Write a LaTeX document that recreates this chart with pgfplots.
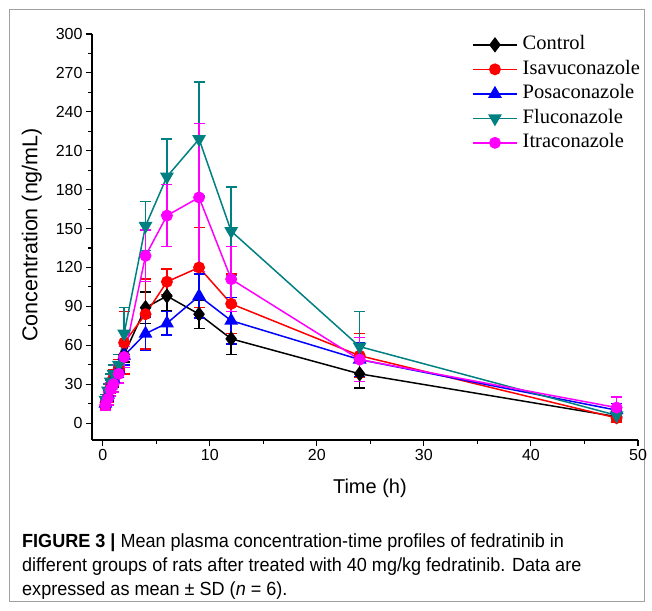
\documentclass[border=0pt]{standalone}
\usepackage{pgfplots}
\pgfplotsset{compat=1.18}
\usepackage{fontspec}
\setmainfont{Liberation Sans}
\newfontfamily\capfont[FakeStretch=0.95]{Liberation Sans}
\newfontfamily\legfont{Liberation Serif}
\definecolor{cTeal}{RGB}{0,128,128}
\definecolor{cMag}{RGB}{255,0,255}
\definecolor{cFrame}{RGB}{160,160,160}

\begin{document}
\begin{tikzpicture}[x=1pt,y=1pt]
\useasboundingbox (0,0) rectangle (652,610);
\draw[cFrame,line width=0.8pt] (9,9) rectangle (644,601);
\begin{axis}[
  at={(92pt,170pt)}, anchor=south west,
  scale only axis, width=546pt, height=406pt,
  xmin=-1, xmax=50, ymin=-13, ymax=300,
  axis x line*=bottom, axis y line*=left,
  axis line style={-,line width=1.3pt},
  tick align=outside,
  xtick={0,10,...,50}, minor x tick num=1,
  ytick={0,30,...,300}, minor y tick num=1,
  major tick length=6pt, minor tick length=3.5pt,
  tick style={black,line width=1.1pt},
  tick label style={font=\fontsize{16}{18}\selectfont},
  /pgf/number format/assume math mode=true,
  xlabel={Time (h)}, ylabel={Concentration (ng/mL)},
  xlabel style={font=\fontsize{20}{22}\selectfont, at={(axis description cs:0.509,-0.118)}, anchor=center},
  ylabel style={font=\fontsize{21.5}{23}\selectfont, at={(axis description cs:-0.11,0.505)}, anchor=center},
  clip=false,
  legend cell align=left,
  legend style={at={(0.696,1.004)}, anchor=north west, draw=none, fill=none,
    font=\legfont\fontsize{20.5}{20}\selectfont, inner sep=0pt,
    nodes={inner ysep=2pt, inner xsep=2pt, text height=15pt, text depth=5.5pt},
    /tikz/every odd column/.append style={column sep=3pt}},
  legend image code/.code={\draw[mark repeat=2,mark phase=2,#1] plot coordinates {(0pt,0pt)(22pt,0pt)(44pt,0pt)};},
  every axis plot/.append style={line width=1.5pt},
  error bars/error bar style={line width=1.5pt},
  error bars/error mark options={rotate=90, mark size=5.5pt, line width=1.5pt},
]
\addplot[black, mark=diamond*, mark size=6.5pt,
  error bars/.cd, y dir=both, y explicit]
  coordinates {(0.25,16)+-(0,3) (0.5,21)+-(0,4) (0.75,27)+-(0,4) (1,33)+-(0,5) (1.5,40)+-(0,5) (2,53)+-(0,6)
   (4,89)+-(0,12) (6,98)+-(0,11) (9,84)+-(0,11) (12,65)+-(0,12) (24,38)+-(0,11) (48,5)+-(0,2)};
\addlegendentry{Control}
\addplot[red, mark=*, mark size=5.2pt,
  error bars/.cd, y dir=both, y explicit]
  coordinates {(0.25,14)+-(0,3) (0.5,20)+-(0,4) (0.75,28)+-(0,5) (1,35)+-(0,6) (1.5,42)+-(0,7) (2,62)+-(0,24)
   (4,84)+-(0,27) (6,109)+-(0,10) (9,120)+-(0,31) (12,92)+-(0,23) (24,52)+-(0,17) (48,4)+-(0,3)};
\addlegendentry{Isavuconazole}
\addplot[blue, mark=triangle*, mark size=6.5pt,
  error bars/.cd, y dir=both, y explicit]
  coordinates {(0.25,15)+-(0,3) (0.5,22)+-(0,4) (0.75,29)+-(0,4) (1,34)+-(0,5) (1.5,41)+-(0,6) (2,52)+-(0,7)
   (4,69)+-(0,13) (6,77)+-(0,9) (9,98)+-(0,17) (12,79)+-(0,18) (24,49)+-(0,13) (48,10)+-(0,5)};
\addlegendentry{Posaconazole}
\addplot[cTeal, mark=triangle*, mark size=6.5pt, mark options={rotate=180},
  error bars/.cd, y dir=both, y explicit]
  coordinates {(0.25,18)+-(0,4) (0.5,25)+-(0,5) (0.75,32)+-(0,6) (1,38)+-(0,7) (1.5,45)+-(0,8) (2,69)+-(0,20)
   (4,152)+-(0,19) (6,190)+-(0,29) (9,219)+-(0,44) (12,148)+-(0,34) (24,59)+-(0,27) (48,6)+-(0,4)};
\addlegendentry{Fluconazole}
\addplot[cMag, mark=*, mark size=5.2pt,
  error bars/.cd, y dir=both, y explicit]
  coordinates {(0.25,14)+-(0,4) (0.5,19)+-(0,5) (0.75,26)+-(0,5) (1,30)+-(0,6) (1.5,38)+-(0,7) (2,51)+-(0,8)
   (4,129)+-(0,20) (6,160)+-(0,24) (9,174)+-(0,57) (12,111)+-(0,25) (24,49)+-(0,17) (48,12)+-(0,8)};
\addlegendentry{Itraconazole}
\end{axis}
\node[anchor=base west,inner sep=0pt] at (22,63) {\capfont\fontsize{19}{21}\selectfont\textbf{FIGURE 3 |} Mean plasma concentration-time profiles of fedratinib in};
\node[anchor=base west,inner sep=0pt] at (22,38.5) {\capfont\fontsize{19}{21}\selectfont different groups of rats after treated with 40 mg/kg fedratinib. Data are};
\node[anchor=base west,inner sep=0pt] at (22,14.5) {\capfont\fontsize{19}{21}\selectfont expressed as mean \textpm{} SD (\textit{n} = 6).};
\end{tikzpicture}
\end{document}
